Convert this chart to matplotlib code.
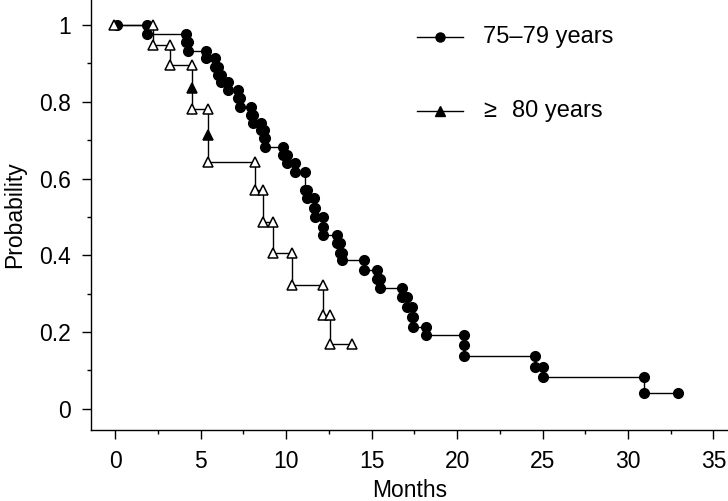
import numpy as np
import matplotlib
matplotlib.use("Agg")
import matplotlib.pyplot as plt
from matplotlib.ticker import MultipleLocator, FuncFormatter
from matplotlib.lines import Line2D

plt.rcParams["font.family"] = ["Liberation Sans", "DejaVu Sans"]

# ── data (event time, survival after the event) ─────────────────────────────
circ_t0, circ_end = 0.1, 32.95
circ_times = [1.85, 4.15, 4.25, 5.31, 5.85, 6.0, 6.2, 6.62, 7.2, 7.3,
              7.95, 8.05, 8.55, 8.68, 8.76, 9.83, 10.03, 10.52, 11.1, 11.2,
              11.63, 11.69, 12.17, 12.17, 12.96, 13.15, 13.25, 14.56, 15.3, 15.49,
              16.76, 17.05, 17.35, 17.42, 18.2, 20.4, 20.4, 24.56, 25.05, 30.96]
circ_surv = [0.977, 0.955, 0.933, 0.913, 0.891, 0.870, 0.852, 0.831, 0.809, 0.787,
             0.766, 0.744, 0.727, 0.705, 0.683, 0.661, 0.640, 0.618, 0.570, 0.549,
             0.523, 0.500, 0.475, 0.453, 0.431, 0.405, 0.388, 0.362, 0.338, 0.314,
             0.292, 0.266, 0.240, 0.214, 0.193, 0.167, 0.138, 0.110, 0.083, 0.041]

tri_t0, tri_end = -0.1, 13.83
tri_times = [2.22, 3.2, 4.5, 4.5, 5.45, 5.45, 8.2, 8.63, 9.25, 10.32, 12.14, 12.57]
tri_surv = [0.948, 0.896, 0.835, 0.780, 0.713, 0.644, 0.570, 0.488, 0.405, 0.323,
            0.245, 0.169]

legend_labels = ["75\u201379 years", "80 years"]


def km_vertices(t0, times, surv, t_end):
    """corner points of the step curve, plus which ones sit mid-drop"""
    x, y = [t0], [1.0]
    prev = 1.0
    for t, s in zip(times, surv):
        if t != x[-1]:
            x.append(t); y.append(prev)
        x.append(t); y.append(s)
        prev = s
    x.append(t_end); y.append(prev)
    mid = [0 < i < len(x) - 1 and x[i - 1] == x[i] == x[i + 1] for i in range(len(x))]
    return np.array(x), np.array(y), np.array(mid)


fig = plt.figure(figsize=(7.28, 5.01), dpi=100)
ax = fig.add_axes([0.125, 0.1417, 0.875, 0.8583])

cx, cy, _ = km_vertices(circ_t0, circ_times, circ_surv, circ_end)
ax.plot(cx, cy, color="black", lw=1.0, marker="o", ms=7.0, mfc="black",
        mec="black", zorder=2, clip_on=False)

tx, ty, tmid = km_vertices(tri_t0, tri_times, tri_surv, tri_end)
ax.plot(tx, ty, color="black", lw=1.0, zorder=3, clip_on=False)
ax.plot(tx[~tmid], ty[~tmid], ls="none", marker="^", ms=7.5, mfc="white",
        mec="black", mew=1.1, zorder=4, clip_on=False)
ax.plot(tx[tmid], ty[tmid], ls="none", marker="^", ms=7.5, mfc="black",
        mec="black", mew=1.1, zorder=4, clip_on=False)

ax.set_xlim(-1.42, 35.85)
ax.set_ylim(-0.055, 1.065)
for s in ["top", "right"]:
    ax.spines[s].set_visible(False)
for s in ["left", "bottom"]:
    ax.spines[s].set_linewidth(1.0)

ax.xaxis.set_major_locator(MultipleLocator(5))
ax.xaxis.set_minor_locator(MultipleLocator(2.5))
ax.yaxis.set_major_locator(MultipleLocator(0.2))
ax.yaxis.set_minor_locator(MultipleLocator(0.1))
ax.yaxis.set_major_formatter(FuncFormatter(lambda v, p: f"{v:g}"))
ax.tick_params(which="major", direction="out", length=6.5, width=1.0,
               labelsize=16.5, pad=8)
ax.tick_params(which="minor", direction="out", length=3.2, width=1.0)

ax.set_xlabel("Months", fontsize=16.5, labelpad=4)
ax.set_ylabel("Probability", fontsize=16.5, labelpad=9)

# legend, drawn by hand
for yy, mk in [(0.926, "o"), (0.779, "^")]:
    fig.add_artist(Line2D([0.573, 0.636], [yy, yy], color="black", lw=1.0))
    fig.add_artist(Line2D([0.6045], [yy], marker=mk, ms=6.5, color="black"))
fig.text(0.6635, 0.926, legend_labels[0], fontsize=17, va="center")
fig.text(0.6635, 0.779, "\u2265", fontsize=17, va="center")
fig.text(0.703, 0.779, legend_labels[1], fontsize=17, va="center")

plt.savefig("out.png", dpi=100)
plt.close()
